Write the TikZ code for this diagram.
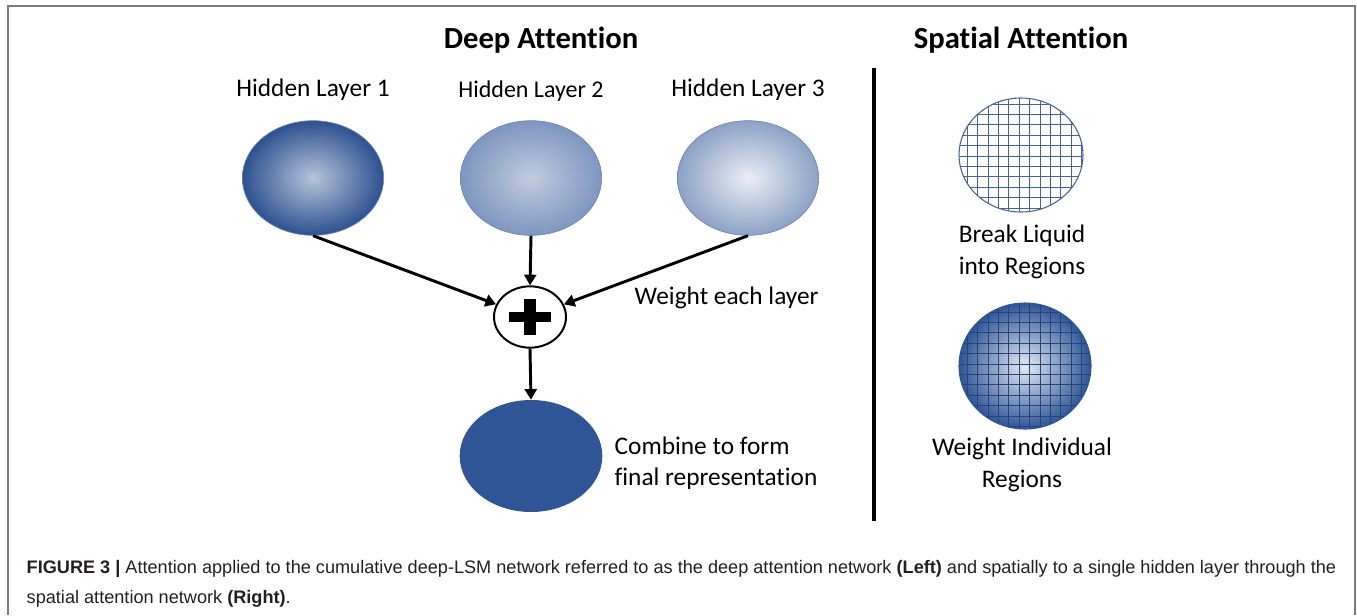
\documentclass[tikz,border=0pt]{standalone}
\usepackage{fontspec}
\setmainfont{Carlito}[Ligatures=NoCommon]
\newfontfamily\capfont{Liberation Sans}
\usetikzlibrary{shapes.geometric,arrows.meta}
\definecolor{layerdark}{HTML}{2F5597}
\definecolor{layeredge}{HTML}{6F88B8}
\definecolor{gridblue}{HTML}{46639A}
\definecolor{framegray}{HTML}{7A7A7A}
\definecolor{captext}{HTML}{231F20}

\begin{document}
\begin{tikzpicture}[x=0.75pt,y=-0.75pt,
  hidden/.style={ellipse,draw=layeredge,line width=0.5pt,minimum width=106pt,minimum height=86pt,inner sep=0pt},
  sumnode/.style={ellipse,draw,line width=1.5pt,minimum width=54pt,minimum height=46pt,inner sep=0pt},
  heading/.style={font=\bfseries\fontsize{23}{27}\selectfont},
  lbl/.style={font=\fontsize{19}{23.5}\selectfont},
  arr/.style={line width=2.2pt,-{Triangle[length=8pt,width=9pt]}}]
  \useasboundingbox (0,0) rectangle (1357,615);
  \draw[framegray,line width=1.5pt] (8,615) -- (8,6) -- (1355,6) -- (1355,615);

  \node[heading] (deep) at (541,40) {Deep Attention};
  \node[heading] (spatial) at (1021,40) {Spatial Attention};
  \draw[line width=3pt] (874,68) -- (874,521);

  \node[lbl] (t1) at (313,90) {Hidden Layer 1};
  \node[lbl,font=\fontsize{18}{22}\selectfont] (t2) at (531,91) {Hidden Layer 2};
  \node[lbl] (t3) at (748,90) {Hidden Layer 3};

  \node[hidden,inner color=layerdark!35!white,outer color=layerdark!95!black] (h1) at (313,178) {};
  \node[hidden,inner color=layerdark!30!white,outer color=layerdark!62!white] (h2) at (531,178) {};
  \node[hidden,inner color=layerdark!10!white,outer color=layerdark!55!white] (h3) at (748,178) {};

  \node[sumnode] (plus) at (530,317) {};
  \draw[line width=7.5pt] ([xshift=-16pt]plus.center) -- ([xshift=16pt]plus.center);
  \draw[line width=9pt] ([yshift=-13.5pt]plus.center) -- ([yshift=13.5pt]plus.center);

  \node[ellipse,fill=layerdark,minimum width=107pt,minimum height=84pt,inner sep=0pt] (final) at (531,456) {};

  \draw[arr] (h1.south) -- (plus);
  \draw[arr] (h2.south) -- (plus.north);
  \draw[arr] (h3.south) -- (plus);
  \draw[arr] (plus.south) -- (final.north);

  \node[lbl,anchor=west] (weight) at (630,298) {Weight each layer};
  \node[lbl,anchor=west,align=left] (combine) at (610,463) {Combine to form\\final representation};

  \begin{scope}
    \clip (1021,155) ellipse [x radius=62, y radius=57];
    \draw[gridblue,line width=0.6pt,step=7.8pt] (940,225) grid (1100,85);
  \end{scope}
  \draw[gridblue,line width=0.8pt] (1021,155) ellipse [x radius=62, y radius=57];
  \node[lbl,align=center] (breaktxt) at (1022,252) {Break Liquid\\into Regions};

  \begin{scope}
    \clip (1025,366) ellipse [x radius=66, y radius=63];
    \shade[inner color=layerdark!12!white,outer color=layerdark] (1025,366) ellipse [x radius=66, y radius=63];
    \draw[layerdark!80!black,line width=0.6pt,step=7.8pt] (940,445) grid (1110,290);
  \end{scope}
  \draw[layerdark,line width=0.8pt] (1025,366) ellipse [x radius=66, y radius=63];
  \node[lbl,align=center] (weighttxt) at (1022,465) {Weight Individual\\Regions};

  \node[anchor=base west,align=left,text=captext,font=\capfont\fontsize{13.6}{22}\selectfont] (caption) at (22,603)
    {\textbf{FIGURE 3 |} Attention applied to the cumulative deep-LSM network referred to as the deep attention network \textbf{(Left)} and spatially to a single hidden layer through the\\spatial attention network \textbf{(Right)}.};
\end{tikzpicture}
\end{document}
